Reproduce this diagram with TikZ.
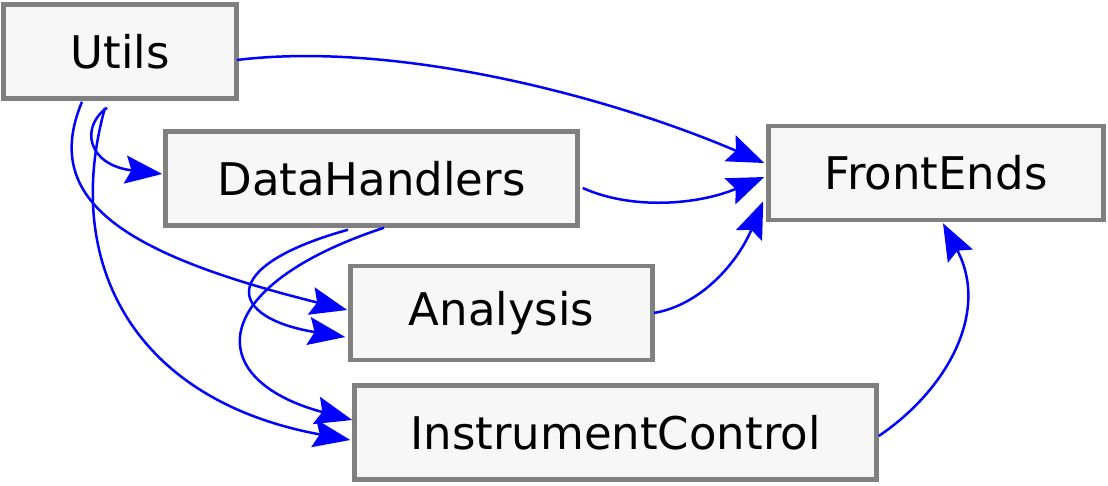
\documentclass[tikz,border=0pt]{standalone}
\usepackage{fontspec}
\setmainfont{DejaVu Sans}
\usetikzlibrary{arrows.meta,calc}

\definecolor{boxfill}{HTML}{F7F7F7}
\definecolor{boxline}{HTML}{808080}

\begin{document}
\begin{tikzpicture}[
    x=1pt, y=-1pt,
    module/.style={rectangle, draw=boxline, fill=boxfill, line width=4.5pt,
        inner sep=0pt, minimum height=94pt,
        font=\fontsize{45}{54}\selectfont},
    dep/.style={draw=blue, line width=2.5pt,
        -{Stealth[length=37pt, width=28pt, inset=6pt]}}
]
    \useasboundingbox (0,0) rectangle (1108,485);

    % Module
    \node[module, minimum width=233pt] (utils) at (120,51.5) {Utils};
    \node[module, minimum width=412pt] (data) at (371.5,178.5) {DataHandlers};
    \node[module, minimum width=335pt] (front) at (936,173) {FrontEnds};
    \node[module, minimum width=302pt] (analysis) at (501.5,313) {Analysis};
    \node[module, minimum width=522pt] (instr) at (615.5,432.5) {InstrumentControl};

    % Abhaengigkeiten
    \draw[dep] ($(utils.east)+(-2,8.5)$) .. controls +(165,-20) and +(-146,-63) .. ($(front.west)+(-2,-10)$);
    \draw[dep] ($(utils.south)+(-13,7)$) .. controls +(-27,19) and +(-75,-9) .. ($(data.west)+(-1,-4.5)$);
    \draw[dep] ($(utils.south)+(-38,1)$) .. controls +(-42,100) and +(-220,-55) .. ($(analysis.west)+(-1,-3)$);
    \draw[dep] ($(utils.south)+(-15,7)$) .. controls +(-43,154) and +(-218,-40) .. ($(instr.west)+(-2,7.5)$);
    \draw[dep] ($(data.east)+(3,9.5)$) .. controls +(49,22) and +(-67,28) .. ($(front.west)+(-2,4)$);
    \draw[dep] ($(data.south)+(-23.5,2)$) .. controls +(-133,37) and +(-117,-19) .. ($(analysis.west)+(-3,24)$);
    \draw[dep] ($(data.south)+(12.5,0)$) .. controls +(-179,59) and +(-150,-40) .. ($(instr.west)+(0,-12.5)$);
    \draw[dep] ($(analysis.east)+(-1,0)$) .. controls +(48,-8) and +(-25,60) .. ($(front.south west)+(-3,-21)$);
    \draw[dep] ($(instr.east)+(0,3.5)$) .. controls +(68,-46) and +(47,89) .. ($(front.south)+(7,1)$);

\end{tikzpicture}
\end{document}
